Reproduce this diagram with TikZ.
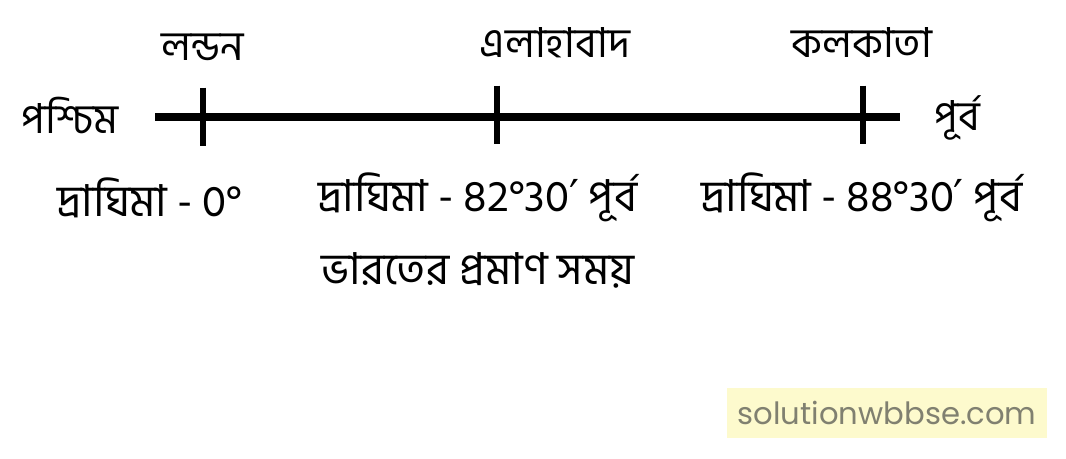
\documentclass[tikz,border=0pt]{standalone}
\usepackage{fontspec}
\newfontfamily\bnfont[Script=Bengali]{Hind Siliguri}
\newfontfamily\symfont{DejaVu Sans}
\newfontfamily\wmfont{Poppins}
\usetikzlibrary{positioning}
\definecolor{wmback}{RGB}{253,250,205}
\definecolor{wmtext}{RGB}{128,128,112}
\newcommand{\mins}{{\symfont ′}}

\begin{document}
\begin{tikzpicture}[x=0.75pt, y=-0.75pt, every node/.style={font=\bnfont\fontsize{31}{36}\selectfont, inner sep=0pt},
  longlabel/.style={font=\bnfont\fontsize{33}{38}\selectfont}]
\useasboundingbox (0,0) rectangle (1066,459);

\coordinate (west) at (155,117);
\coordinate (east) at (900,117);
\coordinate (t1) at (203,117);
\coordinate (t2) at (497,115);
\coordinate (t3) at (863,115);

\draw[line width=6pt] (west) -- (east);
\foreach \t in {t1,t2,t3}
  \draw[line width=5pt] ([yshift=22pt]\t) -- ([yshift=-22pt]\t);

% -------------------------------

\node (london) at (203,47) {লন্ডন};
\node (allahabad) at (555,43) {এলাহাবাদ};
\node (kolkata) at (862,43) {কলকাতা};

\node (paschim) at (70,115) {পশ্চিম};
\node (purba) at (957,118) {পূর্ব};

\node (long1) [longlabel] at (150,198) {দ্রাঘিমা - 0°};
\node (long2) [longlabel] at (478,197) {দ্রাঘিমা - 82°30\mins{} পূর্ব};
\node (long3) [longlabel] at (862,197) {দ্রাঘিমা - 88°30\mins{} পূর্ব};
\node (ist) [longlabel] at (478,270) {ভারতের প্রমাণ সময়};

% -------------------------------

\node (wm) [fill=wmback, text=wmtext, font=\wmfont\fontsize{23}{26}\selectfont, minimum width=240pt, minimum height=37pt] at (887,413) {solutionwbbse.com};
\end{tikzpicture}
\end{document}
